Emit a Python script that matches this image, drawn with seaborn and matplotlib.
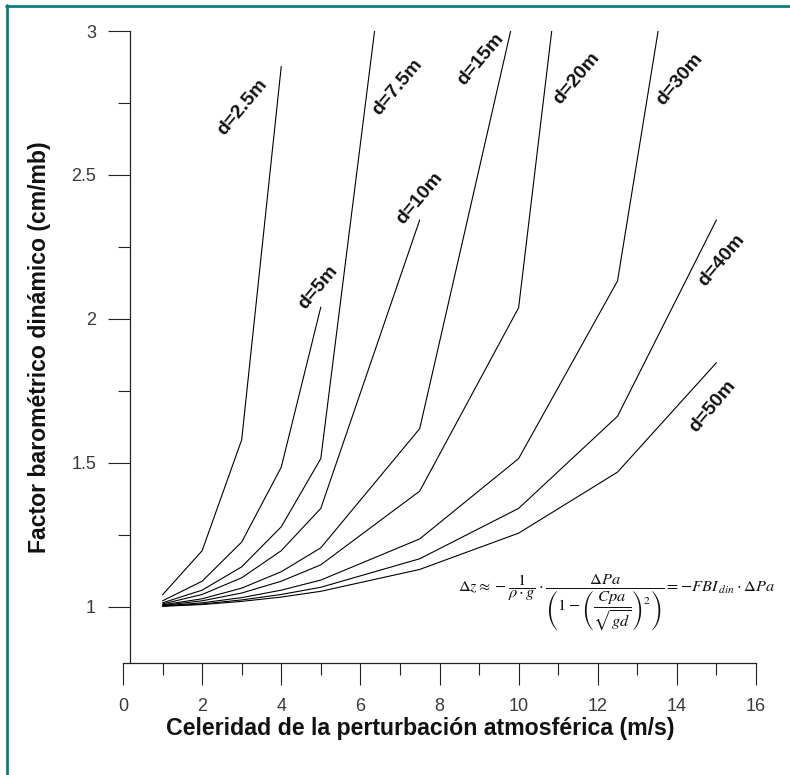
import matplotlib
matplotlib.use("Agg")
import matplotlib.pyplot as plt
from matplotlib.lines import Line2D
from matplotlib.ticker import MultipleLocator
import seaborn as sns
import pandas as pd

# ---- data ----
celeridad = [1, 2, 3, 4, 5, 7.5, 10, 12.5, 15]
depths = ["d=2.5m", "d=5m", "d=7.5m", "d=10m", "d=15m", "d=20m", "d=30m", "d=40m", "d=50m"]
fbi_d2_5 = [1.042, 1.195, 1.580, 2.877]
fbi_d5 = [1.021, 1.089, 1.225, 1.485, 2.041]
fbi_d7_5 = [1.014, 1.058, 1.139, 1.278, 1.515, 4.247]
fbi_d10 = [1.010, 1.043, 1.101, 1.195, 1.342, 2.344]
fbi_d15 = [1.007, 1.028, 1.065, 1.122, 1.205, 1.619, 3.121]
fbi_d20 = [1.005, 1.021, 1.048, 1.089, 1.146, 1.402, 2.039, 4.911]
fbi_d30 = [1.003, 1.014, 1.032, 1.058, 1.093, 1.236, 1.515, 2.132, 4.247]
fbi_d40 = [1.003, 1.010, 1.024, 1.043, 1.068, 1.167, 1.342, 1.662, 2.344]
fbi_d50 = [1.002, 1.008, 1.019, 1.034, 1.054, 1.130, 1.256, 1.468, 1.848]
series = [fbi_d2_5, fbi_d5, fbi_d7_5, fbi_d10, fbi_d15, fbi_d20, fbi_d30, fbi_d40, fbi_d50]

rows = []
for name, vals in zip(depths, series):
    for x, v in zip(celeridad, vals):
        rows.append({"c": x, "fbi": v, "d": name})
df = pd.DataFrame(rows)

sns.set_style("white")
plt.rcParams["font.family"] = ["Liberation Sans", "DejaVu Sans"]
plt.rcParams["mathtext.fontset"] = "stix"

W, H = 790, 775
fig = plt.figure(figsize=(W / 100, H / 100), dpi=100)
ax = fig.add_axes([123 / W, 1 - 663 / H, 633 / W, (663 - 31) / H])

sns.lineplot(data=df, x="c", y="fbi", hue="d", hue_order=depths,
             palette=["black"] * len(depths), estimator=None, sort=False,
             linewidth=0.8, legend=False, ax=ax)

ax.set_xlim(0, 16)
ax.set_ylim(0.805, 3)
for s in ["top", "right"]:
    ax.spines[s].set_visible(False)
ax.spines["left"].set_position(("data", 0.18))
for s in ["left", "bottom"]:
    ax.spines[s].set_color("#222222")
    ax.spines[s].set_linewidth(0.9)

ax.xaxis.set_major_locator(MultipleLocator(2))
ax.xaxis.set_minor_locator(MultipleLocator(1))
ax.yaxis.set_minor_locator(MultipleLocator(0.25))
ax.set_yticks([1, 1.5, 2, 2.5, 3])
ax.set_yticklabels(["1", "1.5", "2", "2.5", "3"])
ax.tick_params(axis="both", which="both", bottom=True, left=True, top=False, right=False)
ax.tick_params(axis="both", which="major", direction="out", length=15.5, width=0.8,
               color="#222222", labelsize=13, labelcolor="#3a3a3a", pad=9)
ax.tick_params(axis="both", which="minor", direction="out", length=8.5, width=0.8,
               color="#222222")
ax.tick_params(axis="x", which="major", pad=10)
ax.set_xlabel("")
ax.set_ylabel("")

fig.text(420 / W, 1 - 728 / H, "Celeridad de la perturbación atmosférica (m/s)",
         ha="center", va="center", fontsize=16.7, fontweight="bold", color="#111111")
fig.text(40 / W, 1 - 347 / H, "Factor barométrico dinámico (cm/mb)",
         ha="center", va="center", rotation=90, fontsize=16.6, fontweight="bold",
         color="#111111")

label_pos = [(3.01, 2.736), (4.93, 2.108), (6.93, 2.806), (7.51, 2.42), (9.05, 2.903),
             (11.48, 2.837), (14.08, 2.833), (15.14, 2.205), (14.91, 1.698)]
for name, (lx, ly) in zip(depths, label_pos):
    ax.text(lx, ly, name, rotation=50, rotation_mode="anchor", ha="center", va="center",
            fontsize=14, fontweight="bold", color="#111111", clip_on=False)

formula = (r"$\Delta z \approx -\dfrac{1}{\rho\cdot g}\cdot"
           r"\dfrac{\Delta Pa}{\left(1-\left(\dfrac{Cpa}{\sqrt{gd}}\right)^{2}\right)}"
           r"=-FBI_{\,din}\cdot\Delta Pa$")
fig.text(616 / W, 1 - 602 / H, formula, ha="center", va="center", fontsize=11.8,
         color="#111111")

teal = "#137a7a"
fig.add_artist(Line2D([6 / W, 1], [1 - 6 / H, 1 - 6 / H], color=teal, linewidth=2.0,
                      transform=fig.transFigure))
fig.add_artist(Line2D([7 / W, 7 / W], [0, 1 - 5 / H], color=teal, linewidth=2.0,
                      transform=fig.transFigure))

fig.savefig("out.png", dpi=100, facecolor="white")
